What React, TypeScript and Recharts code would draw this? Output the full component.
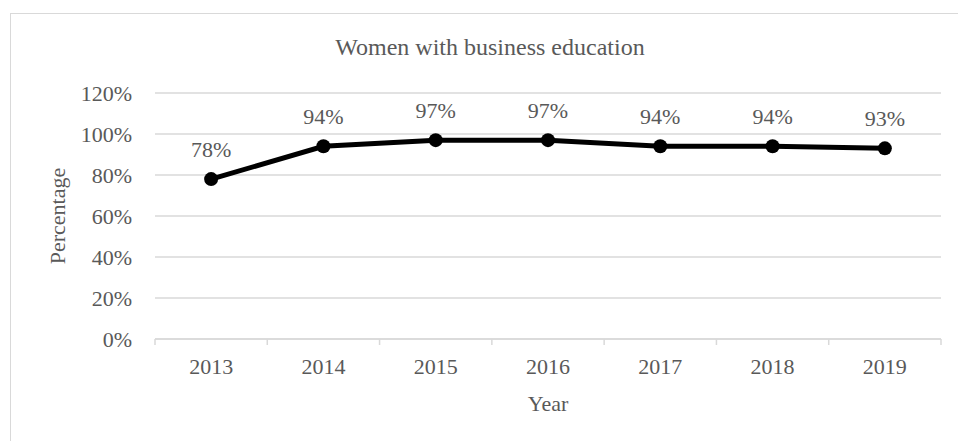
import React from 'react';
import { LineChart, Line, XAxis, YAxis, CartesianGrid, LabelList } from 'recharts';

const years = ['2013', '2014', '2015', '2016', '2017', '2018', '2019'];
const percentages = [78, 94, 97, 97, 94, 94, 93];
const yTicks = [0, 20, 40, 60, 80, 100, 120];

const data = years.map((year, i) => ({ year, value: percentages[i] }));

const FONT = '"Liberation Serif", "Times New Roman", serif';
const TEXT = '#595959';
const GRID = '#d9d9d9';

const W = 958;
const H = 441;
const PLOT_LEFT = 155;
const PLOT_RIGHT = 17;
const TICK_SIZE = 6;
const TICK_MARGIN = 13;
const BAND = (W - PLOT_LEFT - PLOT_RIGHT) / years.length;

// category labels sit in the middle of the band, tick marks on the band edges
const XTick = (props: any) => {
  const { x, y, payload, index } = props;
  const axisY = y - TICK_SIZE - TICK_MARGIN;
  return (
    <g>
      <line x1={x - BAND / 2} x2={x - BAND / 2} y1={axisY} y2={axisY + TICK_SIZE} stroke={GRID} strokeWidth={1.5} />
      {index === years.length - 1 && (
        <line x1={x + BAND / 2} x2={x + BAND / 2} y1={axisY} y2={axisY + TICK_SIZE} stroke={GRID} strokeWidth={1.5} />
      )}
      <text x={x} y={y} dy="0.71em" textAnchor="middle" fill={TEXT} fontSize={22} fontFamily={FONT}>
        {payload.value}
      </text>
    </g>
  );
};

export default function App() {
  return (
    <div style={{ position: 'absolute', left: 0, top: 0, width: W, height: H, overflow: 'hidden', background: '#fff' }}>
      <div
        style={{
          position: 'absolute',
          left: 10,
          top: 13,
          width: 960,
          height: 440,
          border: `1px solid ${GRID}`,
        }}
      />
      <div
        style={{
          position: 'absolute',
          left: 10,
          top: 35,
          width: 960,
          textAlign: 'center',
          fontFamily: FONT,
          fontSize: 24,
          lineHeight: '24px',
          color: TEXT,
        }}
      >
        Women with business education
      </div>
      <div style={{ position: 'absolute', left: 0, top: 0 }}>
        <LineChart width={W} height={H} data={data} margin={{ top: 93, right: PLOT_RIGHT, bottom: 25, left: 55 }}>
          <CartesianGrid vertical={false} stroke={GRID} strokeWidth={1.5} />
          <XAxis
            dataKey="year"
            height={77}
            padding={{ left: BAND / 2, right: BAND / 2 }}
            axisLine={{ stroke: GRID, strokeWidth: 1.5 }}
            tickLine={false}
            tickSize={TICK_SIZE}
            tickMargin={TICK_MARGIN}
            tick={<XTick />}
            interval={0}
            label={{ value: 'Year', position: 'insideBottom', offset: 5, fill: TEXT, fontSize: 22, fontFamily: FONT }}
          />
          <YAxis
            width={100}
            domain={[0, 120]}
            ticks={yTicks}
            tickFormatter={(v: number) => `${v}%`}
            axisLine={false}
            tickLine={false}
            tickSize={TICK_SIZE}
            tickMargin={17}
            tick={{ fill: TEXT, fontSize: 22, fontFamily: FONT }}
            label={{
              value: 'Percentage',
              angle: -90,
              position: 'insideLeft',
              offset: 2,
              fill: TEXT,
              fontSize: 22,
              fontFamily: FONT,
              style: { textAnchor: 'middle' },
            }}
          />
          <Line
            type="linear"
            dataKey="value"
            stroke="#000"
            strokeWidth={5}
            dot={{ r: 7, fill: '#000', stroke: '#000', strokeWidth: 0 }}
            isAnimationActive={false}
          >
            <LabelList
              dataKey="value"
              position="top"
              offset={22}
              formatter={(v: number) => `${v}%`}
              fill={TEXT}
              fontSize={22}
              fontFamily={FONT}
            />
          </Line>
        </LineChart>
      </div>
    </div>
  );
}
